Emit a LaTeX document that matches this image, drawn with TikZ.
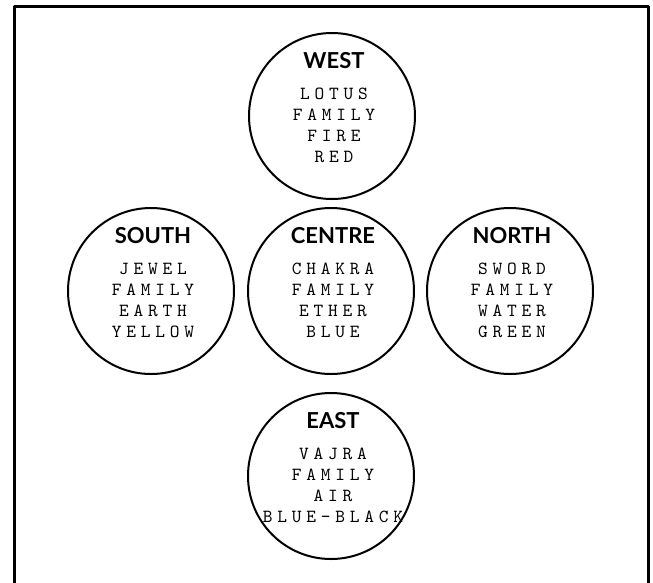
\documentclass[tikz,border=0pt]{standalone}
\usepackage{fontspec}
\usepackage{xcolor}
\usepackage{tikz}
\usetikzlibrary{positioning}
\newfontfamily\headfont{Lato}
\newfontfamily\typefont{lmmono10-regular.otf}[LetterSpace=26]
\definecolor{ink}{HTML}{000000}
\newcommand{\quarter}[1]{{\headfont\bfseries\fontsize{22}{22}\selectfont #1}}
\tikzset{
    every picture/.style={line cap=round,line join=round},
    disc/.style={draw=ink,circle,line width=2pt,minimum size=166pt,inner sep=0pt},
    disctext/.style={align=center,inner sep=0pt,text height=109pt,text depth=17pt,
      xshift=2pt,text=ink,font=\typefont\fontsize{18.5}{21}\selectfont},
    frame/.style={draw=ink,line width=3pt}
}
\begin{document}
\begin{tikzpicture}[x=1pt,y=-1pt]
  \useasboundingbox (0,0) rectangle (653,582);
  \draw[frame] (14,6) rectangle (648,600);
  \node[disc] (west) at (332,116) {};
  \node[disc] (centre) at (331,291) {};
  \node[disc] (south) at (151,291) {};
  \node[disc] (north) at (510,291) {};
  \node[disc] (east) at (331,476) {};
  \node[disctext] (westtext) at (west) {\quarter{WEST}\\[10pt]LOTUS\\FAMILY\\FIRE\\RED};
  \node[disctext] (centretext) at (centre) {\quarter{CENTRE}\\[10pt]CHAKRA\\FAMILY\\ETHER\\BLUE};
  \node[disctext] (southtext) at (south) {\quarter{SOUTH}\\[10pt]JEWEL\\FAMILY\\EARTH\\YELLOW};
  \node[disctext] (northtext) at (north) {\quarter{NORTH}\\[10pt]SWORD\\FAMILY\\WATER\\GREEN};
  \node[disctext] (easttext) at (east) {\quarter{EAST}\\[10pt]VAJRA\\FAMILY\\AIR\\BLUE-BLACK};
\end{tikzpicture}
\end{document}
